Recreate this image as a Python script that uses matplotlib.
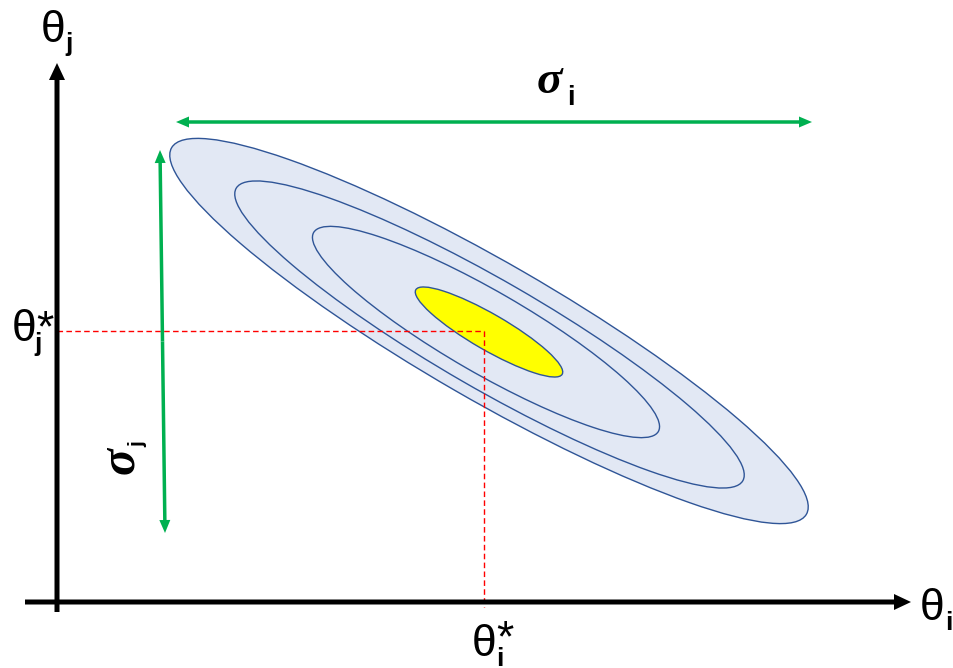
import matplotlib.pyplot as plt
from matplotlib.patches import Ellipse, FancyArrow

# Confidence contours (pixel-space diagram, y grows downward)
contour_cx = [489, 489.5, 486, 489]
contour_cy = [331, 334.5, 332, 332]
contour_w = [733, 585, 398, 169]
contour_h = [137, 108, 82, 36]
contour_angle = 30

# Optimum point theta*
opt_x, opt_y = 484, 331

# Axes and spread arrows: (x0, y0, x1, y1)
x_axis = (25, 602, 911, 602)
y_axis = (57, 612, 57, 63)
sigma_i_arrow = (176, 122, 812, 122)
sigma_j_arrow = (160, 150, 165, 533)

fill_col = '#e2e8f4'
edge_col = '#2f5597'
green = '#00b050'

fig = plt.figure(figsize=(9.54, 6.68), dpi=100)
ax = fig.add_axes([0, 0, 1, 1])
ax.set_xlim(0, 954)
ax.set_ylim(668, 0)
ax.axis('off')

# ellipses: outer one filled, inner ones outlined, yellow core
for k in range(4):
    if k == 0:
        fc = fill_col
    elif k == 3:
        fc = '#ffff00'
    else:
        fc = 'none'
    ax.add_patch(Ellipse((contour_cx[k], contour_cy[k]), contour_w[k], contour_h[k],
                         angle=contour_angle, facecolor=fc, edgecolor=edge_col,
                         lw=1.0, zorder=2 + k))

# red dashed guides to theta*
ax.plot([y_axis[0], opt_x], [opt_y, opt_y], color='red', lw=1.0,
        ls=(0, (4, 2.4)), zorder=10)
ax.plot([opt_x, opt_x], [opt_y, x_axis[1] + 5], color='red', lw=1.0,
        ls=(0, (4, 2.4)), zorder=10)


def arrow(x0, y0, x1, y1, w, hw, hl, col):
    ax.add_patch(FancyArrow(x0, y0, x1 - x0, y1 - y0, width=w, head_width=hw,
                            head_length=hl, length_includes_head=True,
                            color=col, lw=0, zorder=12))


# black axes
arrow(*x_axis, 5, 16, 17, 'black')
arrow(*y_axis, 5, 16, 17, 'black')

# green double arrows
for (x0, y0, x1, y1) in [sigma_i_arrow, sigma_j_arrow]:
    mx, my = (x0 + x1) / 2, (y0 + y1) / 2
    arrow(mx, my, x0, y0, 3.5, 11, 13, green)
    arrow(mx, my, x1, y1, 3.5, 11, 13, green)

sans = 'Liberation Sans'
big = 32
sub = 19

def t(x, y, s, size, **kw):
    ax.text(x, y, s, fontsize=size, ha='center', va='baseline', zorder=15, **kw)

# theta_j at top of y axis
t(53, 42, 'θ', big, family=sans)
t(69.5, 51, 'j', sub, family=sans, weight='bold')
# theta_j*
t(24, 341, 'θ', big, family=sans)
t(45, 341, '*', big, family=sans)
t(38, 351, 'j', sub, family=sans, weight='bold')
# theta_i*
t(484.5, 656, 'θ', big, family=sans)
t(504.5, 651, '*', big, family=sans)
t(500, 666, 'i', sub, family=sans, weight='bold')
# theta_i
t(932.5, 620, 'θ', big, family=sans)
t(949, 630, 'i', sub, family=sans, weight='bold')
# sigma_i
t(549.5, 93, 'σ', 34, family='Liberation Serif', weight='bold', style='italic')
t(571, 105, 'i', 20, family=sans, weight='bold')
# sigma_j (rotated)
ax.text(133, 461, 'σ', fontsize=36, family='Liberation Serif', weight='bold',
        style='italic', rotation=90, rotation_mode='anchor', ha='center',
        va='baseline', zorder=15)
ax.text(143, 444, 'j', fontsize=15, family=sans, weight='bold', rotation=90,
        rotation_mode='anchor', ha='center', va='baseline', zorder=15)

fig.savefig('out.png', dpi=100)
